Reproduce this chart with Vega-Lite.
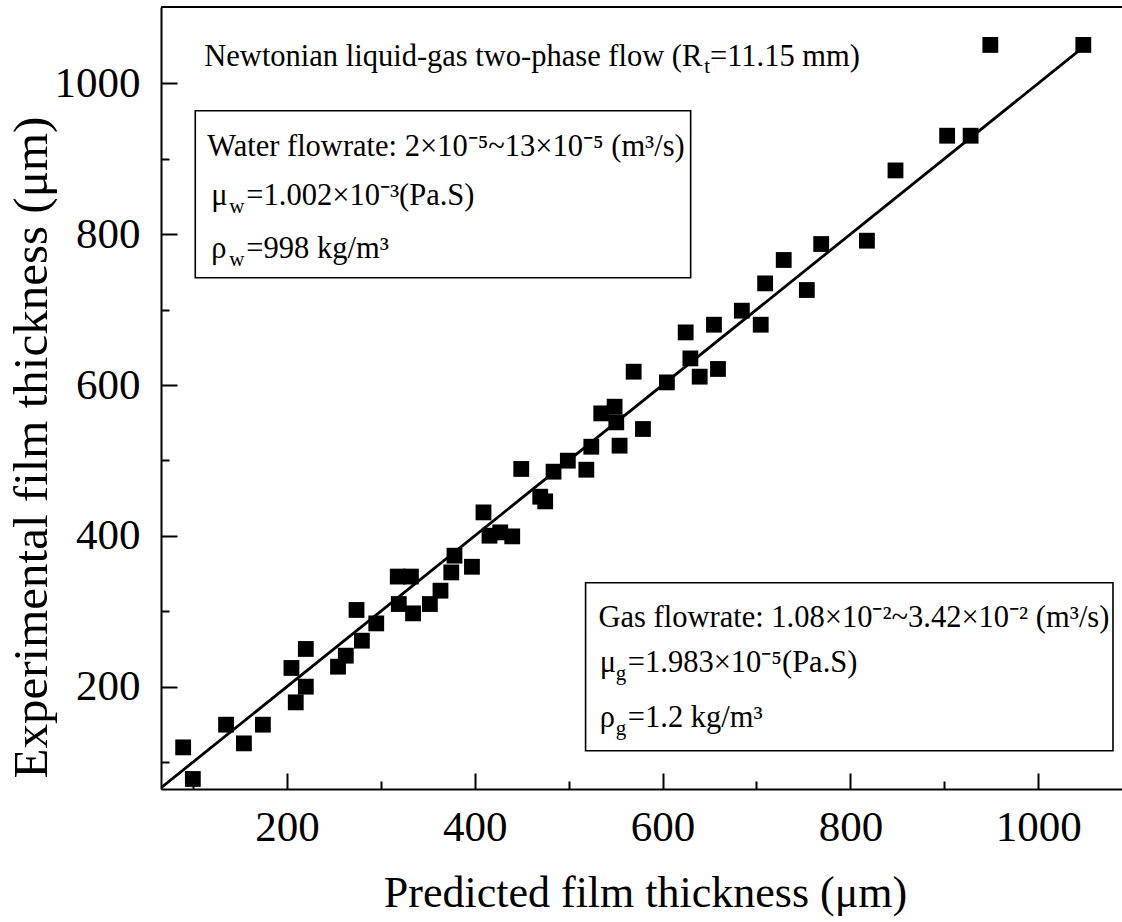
{
  "$schema": "https://vega.github.io/schema/vega-lite/v6.json",
  "autosize": {"type": "none"},
  "padding": {"left": 161, "top": 7, "right": 0, "bottom": 133},
  "width": 961,
  "height": 782,
  "background": "white",
  "config": {
    "view": {"stroke": null},
    "font": "Liberation Serif",
    "axis": {
      "grid": false,
      "domainColor": "black",
      "domainWidth": 2,
      "tickColor": "black",
      "tickWidth": 2,
      "labelFont": "Liberation Serif",
      "labelFontSize": 43,
      "labelColor": "black",
      "titleFont": "Liberation Serif",
      "titleFontWeight": "normal",
      "titleColor": "black",
      "labelFlush": false,
      "labelOverlap": false
    }
  },
  "datasets": {
    "pts": [
      {"predicted": 89.5, "experimental": 119.5},
      {"predicted": 99.8, "experimental": 77.6},
      {"predicted": 135.2, "experimental": 149.6},
      {"predicted": 154.2, "experimental": 124.8},
      {"predicted": 174.4, "experimental": 149.6},
      {"predicted": 204.8, "experimental": 224.8},
      {"predicted": 209.4, "experimental": 179.2},
      {"predicted": 220.1, "experimental": 250},
      {"predicted": 220.1, "experimental": 200},
      {"predicted": 254.4, "experimental": 226.5},
      {"predicted": 262.7, "experimental": 241.1},
      {"predicted": 274.1, "experimental": 301.7},
      {"predicted": 279.8, "experimental": 261},
      {"predicted": 295.1, "experimental": 283.9},
      {"predicted": 319.1, "experimental": 309.6},
      {"predicted": 318, "experimental": 346},
      {"predicted": 332, "experimental": 346},
      {"predicted": 334.3, "experimental": 297.2},
      {"predicted": 352.2, "experimental": 309.6},
      {"predicted": 363.5, "experimental": 327.3},
      {"predicted": 375, "experimental": 351.5},
      {"predicted": 378.4, "experimental": 373.7},
      {"predicted": 397, "experimental": 359},
      {"predicted": 409.3, "experimental": 431.1},
      {"predicted": 415.7, "experimental": 400.2},
      {"predicted": 427.1, "experimental": 404.6},
      {"predicted": 439.9, "experimental": 399.3},
      {"predicted": 449.5, "experimental": 488.7},
      {"predicted": 469.7, "experimental": 451.9},
      {"predicted": 475, "experimental": 445.7},
      {"predicted": 483.9, "experimental": 485.1},
      {"predicted": 499.1, "experimental": 499.7},
      {"predicted": 518.8, "experimental": 487.7},
      {"predicted": 524.1, "experimental": 518.2},
      {"predicted": 534.7, "experimental": 562.4},
      {"predicted": 548.9, "experimental": 571.3},
      {"predicted": 550.7, "experimental": 550.5},
      {"predicted": 554.2, "experimental": 519.6},
      {"predicted": 569.2, "experimental": 617.7},
      {"predicted": 579.1, "experimental": 541.7},
      {"predicted": 604.6, "experimental": 603.5},
      {"predicted": 624.6, "experimental": 669.8},
      {"predicted": 629.6, "experimental": 635.3},
      {"predicted": 639.5, "experimental": 611.1},
      {"predicted": 654.7, "experimental": 680},
      {"predicted": 659, "experimental": 621.3},
      {"predicted": 684.4, "experimental": 698.6},
      {"predicted": 704.5, "experimental": 680},
      {"predicted": 709.2, "experimental": 734.8},
      {"predicted": 729, "experimental": 765.8},
      {"predicted": 753.6, "experimental": 726},
      {"predicted": 768.9, "experimental": 787},
      {"predicted": 817.6, "experimental": 791.4},
      {"predicted": 848, "experimental": 884.6},
      {"predicted": 903, "experimental": 930.6},
      {"predicted": 928, "experimental": 930.6},
      {"predicted": 949, "experimental": 1051},
      {"predicted": 1048, "experimental": 1051}
    ],
    "fit": [
      {"predicted": 65, "experimental": 65},
      {"predicted": 1050, "experimental": 1050}
    ],
    "boxes": [
      {"x1": 102.4, "x2": 629.9, "y1": 742.3, "y2": 963.8},
      {"x1": 518.0, "x2": 1079.6, "y1": 115.0, "y2": 337.9}
    ],
    "texts": [
      {"x": 112.0, "y": 1023.5, "text": "Newtonian liquid-gas two-phase flow (R"},
      {"x": 650.5, "y": 1023.5, "text": "=11.15 mm)"},
      {"x": 115.2, "y": 904.1, "text": "Water flowrate: 2×10⁻⁵~13×10⁻⁵ (m³/s)"},
      {"x": 119.5, "y": 839.1, "text": "μ"},
      {"x": 156.8, "y": 839.1, "text": "=1.002×10⁻³(Pa.S)"},
      {"x": 119.5, "y": 768.9, "text": "ρ"},
      {"x": 156.8, "y": 768.9, "text": "=998 kg/m³"},
      {"x": 531.8, "y": 278.6, "text": "Gas flowrate: 1.08×10⁻²~3.42×10⁻² (m³/s)"},
      {"x": 533.0, "y": 218.9, "text": "μ"},
      {"x": 563.0, "y": 218.9, "text": "=1.983×10⁻⁵(Pa.S)"},
      {"x": 533.0, "y": 146.0, "text": "ρ"},
      {"x": 563.0, "y": 146.0, "text": "=1.2 kg/m³"}
    ],
    "subs": [
      {"x": 644.3, "y": 1014.2, "text": "t"},
      {"x": 138.6, "y": 828.5, "text": "w"},
      {"x": 138.6, "y": 758.3, "text": "w"},
      {"x": 550.1, "y": 208.3, "text": "g"},
      {"x": 550.1, "y": 135.4, "text": "g"}
    ]
  },
  "layer": [
    {
      "data": {"name": "boxes"},
      "mark": {"type": "rect", "fill": null, "stroke": "black", "strokeWidth": 1.6},
      "encoding": {
        "x": {"field": "x1", "type": "quantitative",
          "scale": {"domain": [65.9, 1089.2], "nice": false, "zero": false},
          "axis": {
            "title": "Predicted film thickness (μm)",
            "values": [100, 200, 300, 400, 500, 600, 700, 800, 900, 1000],
            "format": "d",
            "labelExpr": "datum.value % 200 === 0 ? datum.label : ''",
            "tickSize": {"condition": {"test": "datum.value % 200 === 0", "value": -16}, "value": -8},
            "labelPadding": 33,
            "titleFontSize": 44,
            "titleBaseline": "alphabetic",
            "titleX": 484,
            "titleY": 117
          }
        },
        "x2": {"field": "x2"},
        "y": {"field": "y1", "type": "quantitative",
          "scale": {"domain": [64.3, 1101.3], "nice": false, "zero": false},
          "axis": {
            "title": "Experimental film thickness (μm)",
            "values": [100, 200, 300, 400, 500, 600, 700, 800, 900, 1000],
            "format": "d",
            "labelExpr": "datum.value % 200 === 0 ? datum.label : ''",
            "tickSize": {"condition": {"test": "datum.value % 200 === 0", "value": -16}, "value": -8},
            "labelPadding": 37,
            "titleFontSize": 49,
            "titleBaseline": "alphabetic",
            "titleAngle": -90,
            "titleX": -115,
            "titleY": 440
          }
        },
        "y2": {"field": "y2"}
      }
    },
    {
      "data": {"name": "fit"},
      "mark": {"type": "line", "color": "black", "strokeWidth": 2.8, "clip": true},
      "encoding": {
        "x": {"field": "predicted", "type": "quantitative"},
        "y": {"field": "experimental", "type": "quantitative"}
      }
    },
    {
      "data": {"name": "pts"},
      "mark": {"type": "point", "shape": "square", "filled": true, "color": "black", "opacity": 1, "size": 250, "clip": true},
      "encoding": {
        "x": {"field": "predicted", "type": "quantitative"},
        "y": {"field": "experimental", "type": "quantitative"}
      }
    },
    {
      "data": {"values": [{"top": 1101.3}]},
      "mark": {"type": "rule", "color": "black", "strokeWidth": 2},
      "encoding": {"y": {"field": "top", "type": "quantitative"}}
    },
    {
      "data": {"name": "texts"},
      "mark": {"type": "text", "align": "left", "baseline": "alphabetic", "fontSize": 30.5, "font": "Liberation Serif", "color": "black"},
      "encoding": {
        "x": {"field": "x", "type": "quantitative"},
        "y": {"field": "y", "type": "quantitative"},
        "text": {"field": "text"}
      }
    },
    {
      "data": {"name": "subs"},
      "mark": {"type": "text", "align": "left", "baseline": "alphabetic", "fontSize": 21, "font": "Liberation Serif", "color": "black"},
      "encoding": {
        "x": {"field": "x", "type": "quantitative"},
        "y": {"field": "y", "type": "quantitative"},
        "text": {"field": "text"}
      }
    }
  ]
}
